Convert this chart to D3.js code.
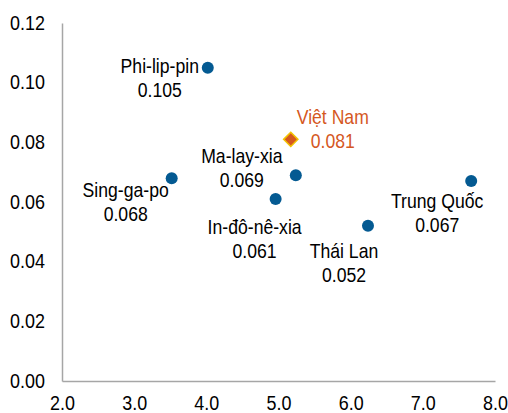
<!DOCTYPE html>
<html>
<head>
<meta charset="utf-8">
<script src="https://cdn.jsdelivr.net/npm/d3@7"></script>
<style>
  html, body { margin: 0; padding: 0; background: #fff; }
  svg text { font-family: "Liberation Sans", Arial, sans-serif; }
</style>
</head>
<body>
<div id="chart"></div>
<script>
  // data
  const countries = ["Phi-lip-pin", "Việt Nam", "Ma-lay-xia", "Sing-ga-po", "In-đô-nê-xia", "Thái Lan", "Trung Quốc"];
  const xValues = [4.02, 5.17, 5.24, 3.52, 4.96, 6.24, 7.67];
  const yValues = [0.105, 0.081, 0.069, 0.068, 0.061, 0.052, 0.067];
  const highlight = "Việt Nam";
  const xTicks = [2, 3, 4, 5, 6, 7, 8];
  const yTicks = [0, 0.02, 0.04, 0.06, 0.08, 0.10, 0.12];

  // label placement relative to each point: [centre dx, first baseline dy]
  const labelOffset = {
    "Phi-lip-pin": [-48, 5],
    "Việt Nam": [42, -15],
    "Ma-lay-xia": [-54, -12],
    "Sing-ga-po": [-46, 19],
    "In-đô-nê-xia": [-21, 35],
    "Thái Lan": [-24, 32],
    "Trung Quốc": [-34, 27]
  };

  const width = 508, height = 413;
  const margin = { top: 23, right: 13, bottom: 32, left: 62 };
  const narrow = 0.86;     // horizontal squeeze, the original uses a narrow face
  const tickNarrow = 0.92;

  const svg = d3.select("#chart").append("svg")
    .attr("width", width)
    .attr("height", height);

  const x = d3.scaleLinear().domain([2, 8]).range([margin.left, width - margin.right]);
  const y = d3.scaleLinear().domain([0, 0.12]).range([height - margin.bottom, margin.top]);

  // axes
  const xAxis = svg.append("g")
    .attr("transform", `translate(0,${height - margin.bottom})`)
    .call(d3.axisBottom(x).tickValues(xTicks).tickFormat(d3.format(".1f")).tickSize(0).tickPadding(15));
  const yAxis = svg.append("g")
    .attr("transform", `translate(${margin.left},0)`)
    .call(d3.axisLeft(y).tickValues(yTicks).tickFormat(d3.format(".2f")).tickSize(0).tickPadding(17));

  [xAxis, yAxis].forEach(a => {
    a.select(".domain").attr("stroke", "#a6a6a6").attr("stroke-width", 1.5);
    a.selectAll("text").attr("font-size", 19.5).attr("fill", "#000")
      .style("font-family", "'Liberation Sans', Arial, sans-serif");
  });
  xAxis.selectAll(".tick text").attr("transform", `scale(${tickNarrow},1)`);
  yAxis.selectAll(".tick text")
    .attr("x", -17 / tickNarrow)
    .attr("transform", `scale(${tickNarrow},1)`);

  const data = countries.map((c, i) => ({ name: c, x: xValues[i], y: yValues[i] }));

  // points
  const pts = svg.append("g").selectAll("g").data(data).join("g")
    .attr("transform", d => `translate(${x(d.x)},${y(d.y)})`);

  pts.filter(d => d.name !== highlight).append("circle")
    .attr("r", 6)
    .attr("fill", "#045a92");

  pts.filter(d => d.name === highlight).append("path")
    .attr("d", d3.symbol().type(d3.symbolDiamond2).size(130))
    .attr("fill", "#d5581f")
    .attr("stroke", "#f2c200")
    .attr("stroke-width", 1.5);

  // labels
  const labels = pts.append("text")
    .attr("text-anchor", "middle")
    .attr("font-size", 20.5)
    .attr("fill", d => d.name === highlight ? "#d5581f" : "#000")
    .attr("transform", d => `translate(${labelOffset[d.name][0]},${labelOffset[d.name][1]}) scale(${narrow},1)`);

  labels.append("tspan").attr("x", 0).attr("y", 0).text(d => d.name);
  labels.append("tspan").attr("x", 0).attr("y", 24).text(d => d3.format(".3f")(d.y));
</script>
</body>
</html>
